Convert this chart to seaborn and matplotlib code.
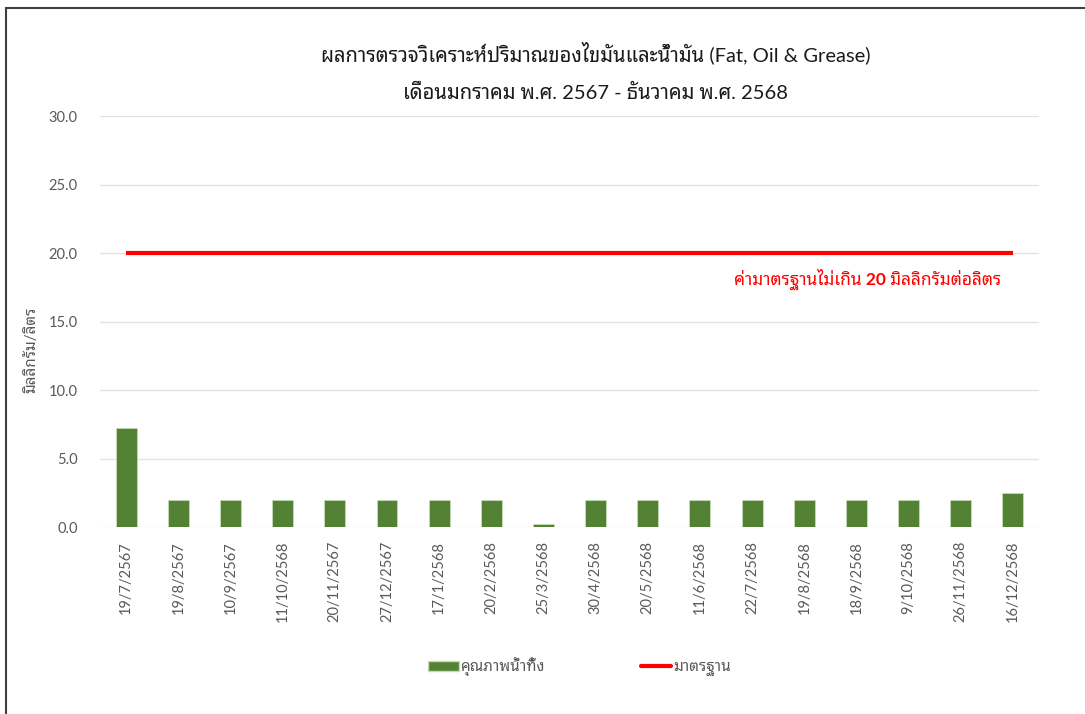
import matplotlib
matplotlib.use("Agg")
import numpy as np
import matplotlib.pyplot as plt
import seaborn as sns
from matplotlib.lines import Line2D
from matplotlib.patches import Patch

# data
dates = ["19/7/2567", "19/8/2567", "10/9/2567", "11/10/2568", "20/11/2567",
         "27/12/2567", "17/1/2568", "20/2/2568", "25/3/2568", "30/4/2568",
         "20/5/2568", "11/6/2568", "22/7/2568", "19/8/2568", "18/9/2568",
         "9/10/2568", "26/11/2568", "16/12/2568"]
fog = [7.2, 2.0, 2.0, 2.0, 2.0, 2.0, 2.0, 2.0, 0.2, 2.0,
       2.0, 2.0, 2.0, 2.0, 2.0, 2.0, 2.0, 2.5]
standard = [20.0] * len(dates)
y_ticks = [0, 5, 10, 15, 20, 25, 30]

title_1 = "ผลการตรวจวิเคราะห์ปริมาณของไขมันและน้ำมัน (Fat, Oil & Grease)"
title_2 = "เดือนมกราคม พ.ศ. 2567 - ธันวาคม พ.ศ. 2568"
y_label = "มิลลิกรัม/ลิตร"
note = "ค่ามาตรฐานไม่เกิน 20 มิลลิกรัมต่อลิตร"
bar_name = "คุณภาพน้ำทิ้ง"
line_name = "มาตรฐาน"

GREEN = "#548235"
RED = "#ff0000"
GREY = "#595959"

sns.set_theme(style="white")
plt.rcParams['font.family'] = ['Lato', 'Noto Sans Thai Looped', 'DejaVu Sans']

fig = plt.figure(figsize=(10.85, 7.14), dpi=100)
ax = fig.add_axes([0.0922, 0.2619, 0.8654, 0.5756])

sns.barplot(x=dates, y=fog, color=GREEN, width=0.4, saturation=1,
            edgecolor="#c5dbb5", linewidth=0.6, ax=ax, zorder=3)
ax.plot(np.arange(len(dates)), standard, color=RED, lw=3, zorder=4,
        solid_capstyle="butt")

ax.set_xlim(-0.5, len(dates) - 0.5)
ax.set_ylim(0, 30)
ax.set_yticks(y_ticks)
ax.set_yticklabels([f"{v:.1f}" for v in y_ticks])
ax.yaxis.grid(True, color="#e3e3e3", lw=1, zorder=0)
ax.xaxis.grid(False)
for s in ax.spines.values():
    s.set_visible(False)
ax.tick_params(axis="x", rotation=90, labelsize=10.5, colors=GREY, length=0, pad=10)
ax.tick_params(axis="y", labelsize=10.5, colors=GREY, length=0, pad=16)
ax.set_xlabel("")
ax.set_ylabel(y_label, fontsize=11, color=GREY)
ax.yaxis.set_label_coords(-0.066, 0.43)

ax.text(14.22, 18.1, note, color=RED, fontsize=12.5, fontweight="bold",
        ha="center", va="center")

fig.text(0.549, 0.926, title_1, ha="center", va="center", fontsize=14.5,
         color="#1a1a1a")
fig.text(0.549, 0.870, title_2, ha="center", va="center", fontsize=14.5,
         color="#1a1a1a")

handles = [Patch(facecolor=GREEN, edgecolor="#c5dbb5"),
           Line2D([0], [0], color=RED, lw=3)]
fig.legend(handles, [bar_name, line_name], loc="center", bbox_to_anchor=(0.534, 0.066),
           ncol=2, frameon=False, fontsize=11, labelcolor=GREY,
           handlelength=2.0, handletextpad=0.1, columnspacing=6.3)

# chart border (top + left)
fig.add_artist(Line2D([6 / 1085, 1], [1 - 8 / 714, 1 - 8 / 714], color="#404040", lw=1.5))
fig.add_artist(Line2D([6 / 1085, 6 / 1085], [0, 1 - 8 / 714], color="#404040", lw=1.5))

fig.savefig("out.png", dpi=100, facecolor="white")
